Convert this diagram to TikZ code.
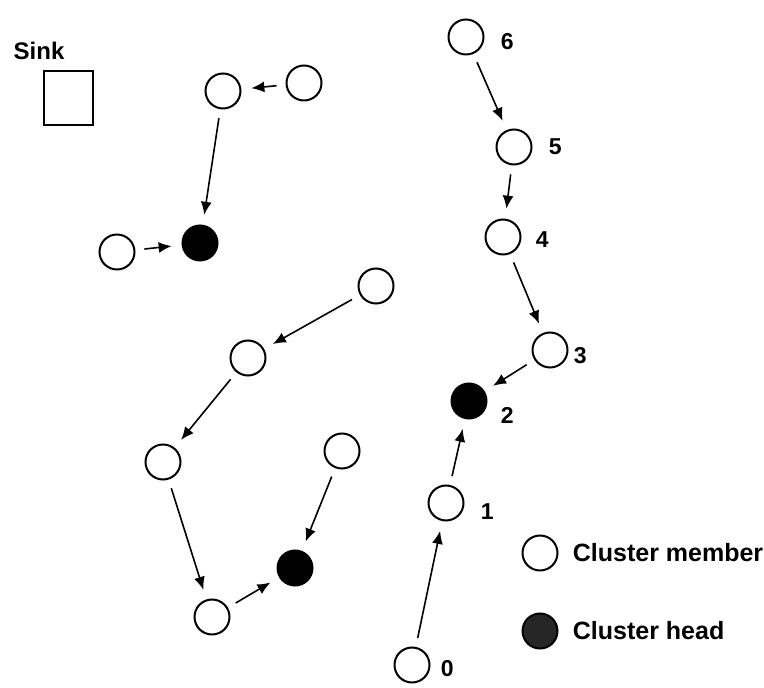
\documentclass[tikz,border=0pt]{standalone}
\usepackage{fontspec}
\setmainfont{Liberation Sans}
\usetikzlibrary{arrows.meta,positioning}

\begin{document}
\begin{tikzpicture}[x=0.5pt,y=-0.5pt,
 member/.style={circle,draw,line width=1pt,minimum size=17.5pt,inner sep=0pt},
 head/.style={member,fill=black},
 num/.style={font=\bfseries\fontsize{11.5}{12}\selectfont,inner sep=0pt},
 keytext/.style={font=\bfseries\fontsize{12.5}{13}\selectfont,inner sep=0pt},
 arr/.style={-{Latex[length=6.5pt,width=5.5pt]},line width=0.8pt,
 shorten <=4.5pt,shorten >=5pt}]
\useasboundingbox (0,0) rectangle (764,688);

% sink
\node[draw,line width=1pt,minimum width=24.5pt,minimum height=27pt] (sink) at (68,98) {};
\node[font=\bfseries\fontsize{12}{12}\selectfont,inner sep=0pt] (sinklbl) at (39,51) {Sink};

% upper left cluster
\node[member] (a1) at (223,91) {};
\node[member] (a2) at (304,83) {};
\node[member] (a3) at (117,252) {};
\node[head] (ha) at (200,243) {};

% lower left cluster
\node[member] (b1) at (376,286) {};
\node[member] (b2) at (248,358) {};
\node[member] (b3) at (163,462) {};
\node[member] (b4) at (212,617) {};
\node[member] (b5) at (342,451) {};
\node[head] (hb) at (295,568) {};

% numbered chain
\node[member] (n6) at (466,37) {};
\node[member] (n5) at (514,147) {};
\node[member] (n4) at (503,237) {};
\node[member] (n3) at (550,350) {};
\node[head] (n2) at (469,401) {};
\node[member] (n1) at (446,503) {};
\node[member] (n0) at (412,665) {};
\node[num,right=8pt of n6,yshift=-2.5pt] (l6) {6};
\node[num,right=8pt of n5] (l5) {5};
\node[num,right=7pt of n4,yshift=-1.5pt] (l4) {4};
\node[num,right=2.5pt of n3,yshift=-3pt] (l3) {3};
\node[num,right=6.5pt of n2,yshift=-7pt] (l2) {2};
\node[num,right=8pt of n1,yshift=-4.5pt] (l1) {1};
\node[num,right=5pt of n0,yshift=-2pt] (l0) {0};

% key
\node[member] (keym) at (540,553) {};
\node[head,fill=black!85] (keyh) at (540,631) {};
\node[keytext,right=7pt of keym] (keymtxt) {Cluster member};
\node[keytext,right=7pt of keyh] (keyhtxt) {Cluster head};

\draw[arr] (a2) -- (a1);
\draw[arr] (a1) -- (ha);
\draw[arr] (a3) -- (ha);
\draw[arr] (b1) -- (b2);
\draw[arr] (b2) -- (b3);
\draw[arr] (b3) -- (b4);
\draw[arr] (b4) -- (hb);
\draw[arr] (b5) -- (hb);
\draw[arr] (n6) -- (n5);
\draw[arr] (n5) -- (n4);
\draw[arr] (n4) -- (n3);
\draw[arr] (n3) -- (n2);
\draw[arr] (n1) -- (n2);
\draw[arr] (n0) -- (n1);
\end{tikzpicture}
\end{document}
